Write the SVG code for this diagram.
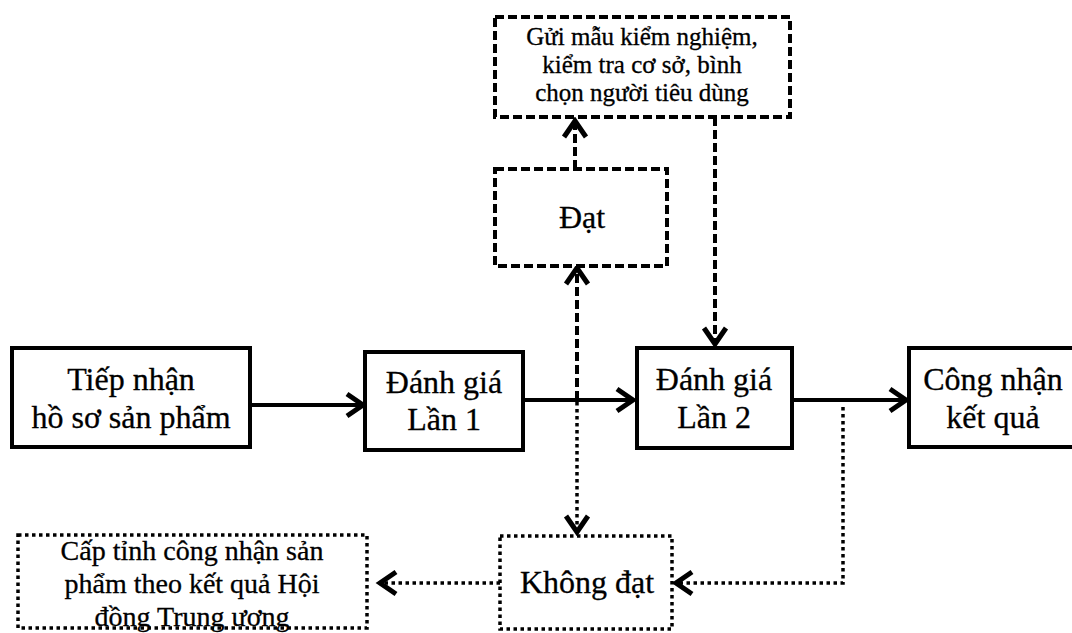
<svg xmlns="http://www.w3.org/2000/svg" width="1072" height="633" viewBox="0 0 1072 633">
<style>
.solid{fill:#fff;stroke:#000;stroke-width:4}
.dash{fill:#fff;stroke:#000;stroke-width:4;stroke-dasharray:9 4}
.dot{fill:#fff;stroke:#000;stroke-width:3.5;stroke-dasharray:3.5 3.5}
.ln{fill:none;stroke:#000;stroke-width:4}
.lnd{fill:none;stroke:#000;stroke-width:4;stroke-dasharray:9 4}
.lno{fill:none;stroke:#000;stroke-width:3.5;stroke-dasharray:3.5 3.5}
text{font-family:"Liberation Serif","Times New Roman",serif;fill:#000;stroke:#000;stroke-width:0.3;text-anchor:middle}
.big{font-size:32px}
.mid{font-size:28px}
.sm{font-size:25px}
</style>
<defs>
<marker id="ah" markerUnits="userSpaceOnUse" markerWidth="34" markerHeight="34" viewBox="-24 -17 34 34" refX="0" refY="0" orient="auto">
<path d="M-16,-11 L0,0 L-16,11" fill="none" stroke="#000" stroke-width="5" stroke-dasharray="none"/>
</marker>
</defs>
<rect width="1072" height="633" fill="#fff"/>
<g id="connectors">
<path class="ln" d="M250,405 H363" marker-end="url(#ah)"/>
<path class="ln" d="M523,400 H633" marker-end="url(#ah)"/>
<path class="ln" d="M792,400 H906" marker-end="url(#ah)"/>
<path class="lnd" d="M575,169 V121" marker-end="url(#ah)"/>
<path class="lnd" d="M715,117 V344" marker-end="url(#ah)"/>
<path class="lnd" d="M577,400 V268" marker-end="url(#ah)"/>
<path class="lno" d="M577,402 V532" marker-end="url(#ah)"/>
<path class="lno" d="M843,407 V583 H676" marker-end="url(#ah)"/>
<path class="lno" d="M500,583 H380" marker-end="url(#ah)"/>
</g>
<g id="tiep-nhan">
<rect class="solid" x="12" y="348" width="238" height="99"/>
<text class="big" x="131" y="390">Tiếp nhận</text>
<text class="big" x="131" y="428">hồ sơ sản phẩm</text>
</g>
<g id="danh-gia-1">
<rect class="solid" x="365" y="352" width="158" height="98"/>
<text class="big" x="444" y="393">Đánh giá</text>
<text class="big" x="444" y="430">Lần 1</text>
</g>
<g id="danh-gia-2">
<rect class="solid" x="637" y="348" width="155" height="100"/>
<text class="big" x="714" y="390">Đánh giá</text>
<text class="big" x="714" y="428">Lần 2</text>
</g>
<g id="cong-nhan">
<rect class="solid" x="909" y="348" width="180" height="99"/>
<text class="big" x="993" y="390">Công nhận</text>
<text class="big" x="993" y="428">kết quả</text>
</g>
<g id="gui-mau">
<rect class="dash" x="495" y="17" width="295" height="100"/>
<text class="sm" x="642" y="45">Gửi mẫu kiểm nghiệm,</text>
<text class="sm" x="642" y="73">kiểm tra cơ sở, bình</text>
<text class="sm" x="642" y="101">chọn người tiêu dùng</text>
</g>
<g id="dat">
<rect class="dash" x="495" y="169" width="172" height="97"/>
<text class="big" x="582" y="228">Đạt</text>
</g>
<g id="khong-dat">
<rect class="dot" x="500" y="536" width="172" height="93"/>
<text class="big" x="587" y="593">Không đạt</text>
</g>
<g id="cap-tinh">
<rect class="dot" x="18" y="535" width="349" height="93"/>
<text class="mid" x="192" y="560">Cấp tỉnh công nhận sản</text>
<text class="mid" x="192" y="593">phẩm theo kết quả Hội</text>
<text class="mid" x="192" y="626">đồng Trung ương</text>
</g>
</svg>
